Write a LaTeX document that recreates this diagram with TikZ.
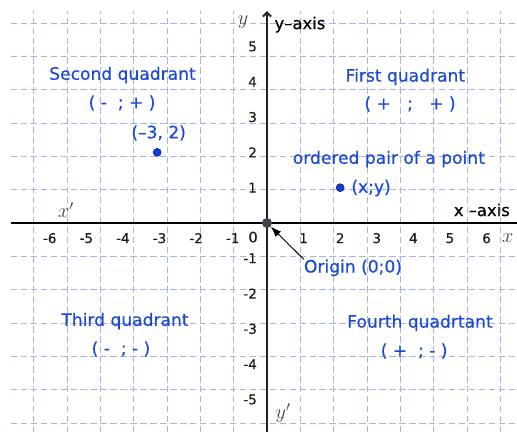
\documentclass[tikz,border=0pt]{standalone}
\usepackage{fontspec}
\newfontfamily\labf{DejaVu Sans}
\newfontfamily\labb[FakeBold=0.35]{DejaVu Sans}
\usetikzlibrary{arrows.meta}
\definecolor{gridc}{RGB}{168,180,232}
\definecolor{txtblue}{RGB}{28,72,214}
\definecolor{axisc}{RGB}{30,34,44}
\definecolor{ptblue}{RGB}{20,60,210}
\definecolor{mathgray}{RGB}{70,70,70}
\tikzset{
  gridline/.style={draw=gridc,line width=0.7pt,dash pattern=on 5.5pt off 3pt},
  axisline/.style={draw=axisc,line width=1.6pt},
  qtext/.style={text=txtblue,font=\labb\fontsize{14.6}{16}\selectfont,inner sep=0pt},
  num/.style={text=black!90,font=\labb\fontsize{11.5}{13}\selectfont,inner sep=0pt},
  axlab/.style={text=black,font=\labb\fontsize{14}{16}\selectfont,inner sep=0pt},
  mlab/.style={text=mathgray,font=\fontsize{17}{19}\selectfont,inner sep=0pt},
  dotpt/.style={circle,fill=ptblue,draw=ptblue!60!black,line width=0.5pt,minimum size=6.8pt,inner sep=0pt},
  odot/.style={circle,fill=axisc!85!white,minimum size=8.6pt,inner sep=0pt}
}
\begin{document}
\begin{tikzpicture}[x=1.098cm,y=1.059cm]
\useasboundingbox (-7.295,-5.921) rectangle (6.831,6.317);
% grid
\draw[gridline] (-7,-5.93) grid (6.84,6);
% axes
\coordinate (xl) at (-7,0);
\coordinate (xr) at (6.84,0);
\coordinate (yb) at (0,-5.93);
\coordinate (yt) at (0,6);
\draw[axisline,draw=black] (xl) -- (xr);
\draw[axisline,-{Straight Barb[length=3.5pt,width=7pt]}] (yb) -- (yt);
% x tick labels
\foreach \v in {6,...,1}{\node[num,xshift=2pt] (xn\v) at (-\v,-0.43) {-\v};}
\foreach \v in {1,...,6}{\node[num] (xp\v) at (\v,-0.43) {\v};}
% y tick labels
\foreach \v in {1,...,5}{\node[num,anchor=east] (yp\v) at (-0.27,\v) {\v};}
\foreach \v in {5,...,1}{\node[num,anchor=east] (yn\v) at (-0.27,-\v) {-\v};}
\node[num,font=\labb\fontsize{12.5}{14}\selectfont] (zero) at (-0.38,-0.40) {0};
% axis names
\node[mlab] (ylab) at (-0.656,5.69) {$y$};
\node[axlab,anchor=west] (yaxis) at (0.2,5.62) {y–axis};
\node[mlab] (xprime) at (-5.49,0.37) {$x'$};
\node[axlab] (xaxis) at (5.87,0.37) {x –axis};
\node[mlab] (xlab) at (6.58,-0.44) {$x$};
\node[mlab] (yprime) at (0.44,-5.38) {$y'$};
% quadrants
\node[qtext] (q2) at (-3.948,4.19) {Second quadrant};
\node[qtext] (q2s) at (-3.96,3.40) {( -\ \ ; + )};
\node[qtext] (q1) at (3.78,4.14) {First quadrant};
\node[qtext] (q1s) at (3.91,3.37) {( +\ \ \ ;\ \ \ + )};
\node[qtext] (q3) at (-3.88,-2.78) {Third quadrant};
\node[qtext] (q3s) at (-3.99,-3.57) {( -\ \ ; - )};
\node[qtext] (q4) at (4.18,-2.83) {Fourth quadrtant};
\node[qtext] (q4s) at (4.02,-3.63) {( +\ \ ; - )};
% points
\node[dotpt] (pA) at (-3,2) {};
\node[qtext] (pAl) at (-2.96,2.55) {(–3, 2)};
\node[dotpt] (pB) at (2,1) {};
\node[qtext,anchor=west] (pBl) at (2.3,0.99) {(x;y)};
\node[qtext] (op) at (3.33,1.81) {ordered pair of a point};
% origin
\node[odot] (O) at (0,0) {};
\node[qtext] (olab) at (2.35,-1.27) {Origin (0;0)};
\draw[black,line width=0.8pt,-{Latex[length=9pt,width=6.5pt]}] (olab.north west) -- (O);
\end{tikzpicture}
\end{document}
